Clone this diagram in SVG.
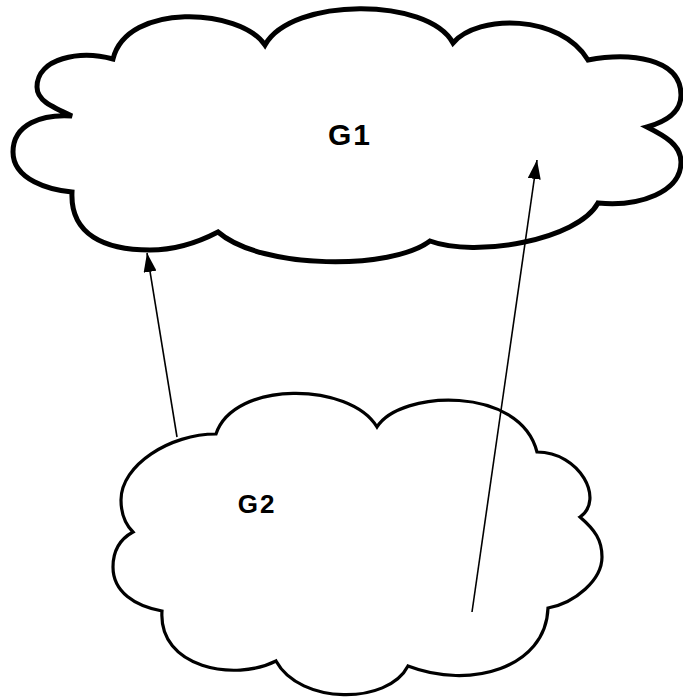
<svg xmlns="http://www.w3.org/2000/svg" width="683" height="698" viewBox="0 0 683 698">
  <defs>
    <style>
      .cloud { fill: #fff; stroke: #000; stroke-linejoin: miter; }
      #g1 .cloud { stroke-width: 5; }
      #g2 .cloud { stroke-width: 3.2; }
      .label { font-family: "Liberation Sans", Arial, sans-serif; font-weight: bold; fill: #000; text-anchor: middle; letter-spacing: 2px; }
      .edge { stroke: #000; stroke-width: 1.6; fill: none; marker-end: url(#arrow); }
    </style>
    <marker id="arrow" markerUnits="userSpaceOnUse" markerWidth="19" markerHeight="13" refX="19" refY="6.5" orient="auto">
      <path d="M0,0 L19,6.5 L0,13 Z" fill="#000"/>
    </marker>
  </defs>

  <rect width="683" height="698" fill="#fff"/>

  <!-- upper cloud -->
  <g id="g1">
    <path class="cloud" d="M113,59
      C127,2 240,8 265,45
      C292,-3 428,-3 453,43
      C478,14 560,14 588,60
      C630,52 681,58 681,95
      C681,113 665,122 647,127
      C665,136 681,145 681,162
      C681,192 640,207 598,203
      C578,240 475,258 430,241
      C392,270 262,270 218,232
      C195,244 172,250 150,250
      C105,250 70,235 72,192
      C50,190 13,180 13,152
      C13,124 42,114 72,116
      C50,106 37,100 37,87
      C37,58 80,50 113,59 Z"/>
    <text class="label" x="350" y="145" font-size="30">G1</text>
  </g>

  <!-- lower cloud -->
  <g id="g2">
    <path class="cloud" d="M216,434
      C234,380 350,382 377,427
      C400,390 520,385 537,452
      C580,452 605,500 580,517
      C595,530 602,540 602,557
      C602,580 575,603 548,608
      C546,668 470,690 408,666
      C388,705 300,705 276,661
      C235,682 158,668 162,611
      C135,606 113,592 113,567
      C113,548 122,538 133,532
      C124,523 121,510 121,500
      C121,465 170,434 216,434 Z"/>
    <text class="label" x="257" y="513" font-size="26">G2</text>
  </g>

  <!-- connectors -->
  <g id="edges">
    <line class="edge" x1="177" y1="437" x2="147" y2="253"/>
    <line class="edge" x1="472" y1="612" x2="537" y2="160"/>
  </g>
</svg>
